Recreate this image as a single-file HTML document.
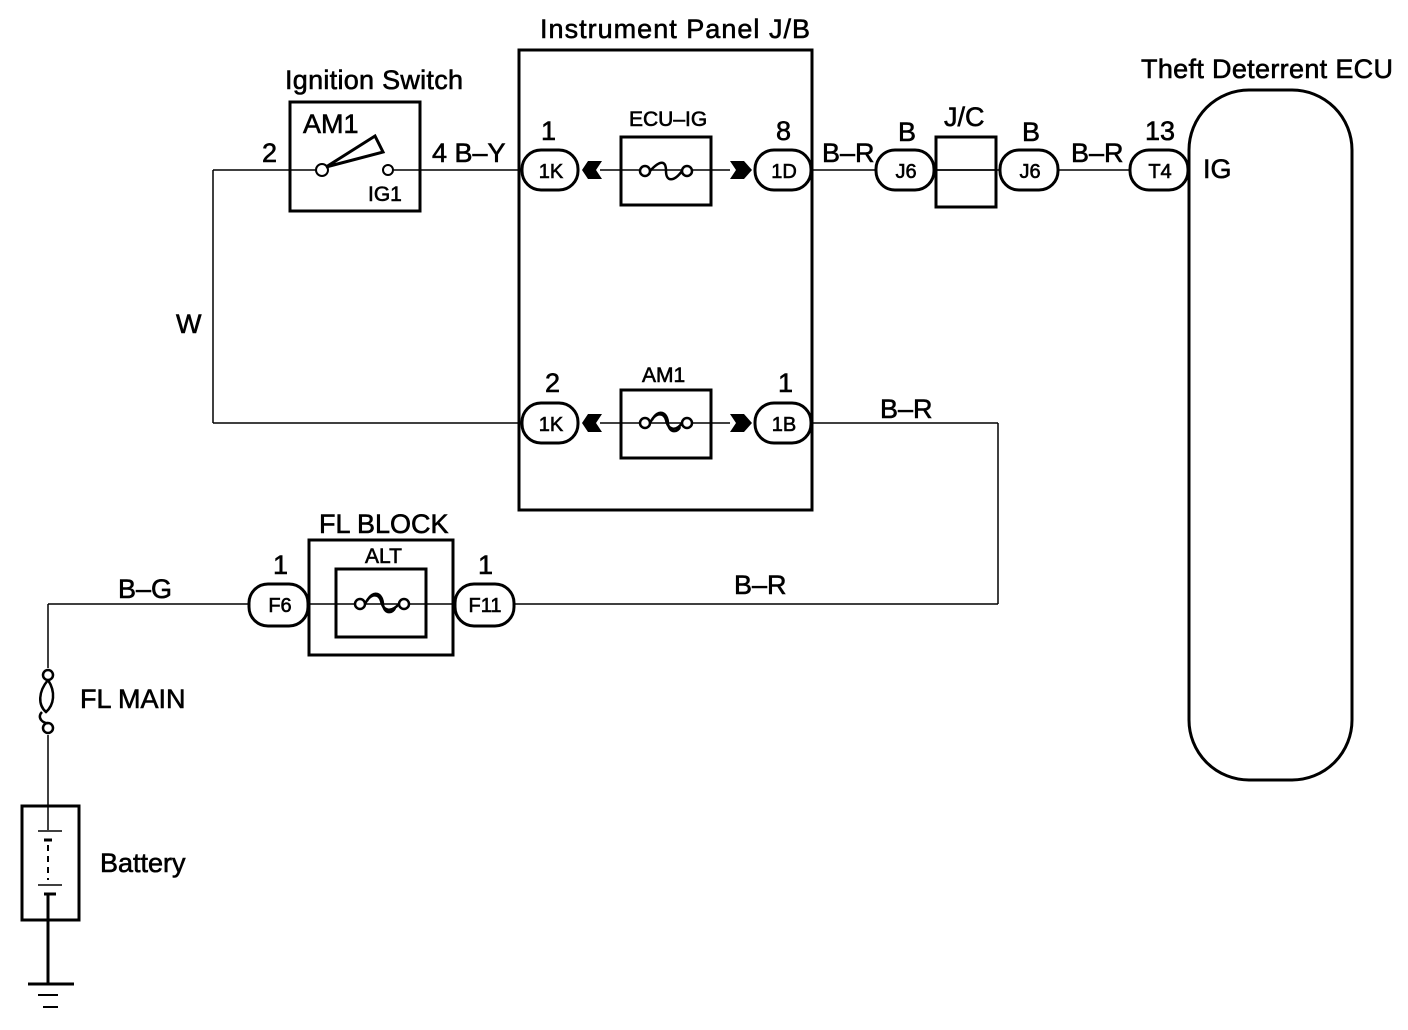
<!DOCTYPE html>
<html><head><meta charset="utf-8"><style>
html,body{margin:0;padding:0;background:#fff}
svg{display:block}
text{font-family:"Liberation Sans",sans-serif;fill:#000;stroke:#000;stroke-width:0.6}
</style></head><body>
<svg width="1408" height="1030" viewBox="0 0 1408 1030" xmlns="http://www.w3.org/2000/svg">
<g fill="none" stroke="#000" stroke-width="1.5">
<line x1="213" y1="170" x2="290" y2="170"/>
<line x1="213" y1="170" x2="213" y2="423"/>
<line x1="213" y1="423" x2="523" y2="423"/>
<line x1="420" y1="170" x2="523" y2="170"/>
<line x1="600" y1="170" x2="730" y2="170"/>
<line x1="600" y1="423" x2="730" y2="423"/>
<line x1="812" y1="170" x2="876" y2="170"/>
<line x1="934" y1="170" x2="1000" y2="170"/>
<line x1="1058" y1="170" x2="1130" y2="170"/>
<line x1="812" y1="423" x2="998" y2="423"/>
<line x1="998" y1="423" x2="998" y2="604"/>
<line x1="515" y1="604" x2="998" y2="604"/>
<line x1="308" y1="604" x2="455" y2="604"/>
<line x1="48" y1="604" x2="248" y2="604"/>
<line x1="48" y1="604" x2="48" y2="668"/>
<line x1="48" y1="735" x2="48" y2="806"/>
<line x1="290" y1="170" x2="316" y2="170"/>
</g>
<g fill="none" stroke="#000" stroke-width="3">
<rect x="290" y="102" width="130" height="109"/>
<rect x="519" y="50" width="293" height="460"/>
<rect x="621" y="137" width="90" height="68"/>
<rect x="621" y="390" width="90" height="68"/>
<rect x="936" y="137" width="60" height="70"/>
<rect x="1189" y="90" width="163" height="690" rx="60"/>
<rect x="309" y="540" width="144" height="115"/>
<rect x="336" y="569" width="90" height="68"/>
<rect x="22" y="806" width="57" height="114"/>
<rect x="522" y="150" width="56" height="40" rx="19"/>
<rect x="755" y="150" width="56" height="40" rx="19"/>
<rect x="522" y="403" width="56" height="40" rx="19"/>
<rect x="755" y="403" width="56" height="40" rx="19"/>
<rect x="876" y="150" width="58" height="40" rx="19"/>
<rect x="1000" y="150" width="58" height="40" rx="19"/>
<rect x="1130" y="150" width="58" height="40" rx="19"/>
<rect x="249" y="584" width="59" height="42" rx="19"/>
<rect x="455" y="584" width="59" height="42" rx="19"/>
</g>
<line x1="936" y1="170" x2="996" y2="170" stroke="#000" stroke-width="1.5"/>
<circle cx="322" cy="170" r="6" fill="#fff" stroke="#000" stroke-width="2"/>
<path d="M326,167 L375,136 L383,152 Z" fill="none" stroke="#000" stroke-width="3"/>
<circle cx="388" cy="170" r="5" fill="#fff" stroke="#000" stroke-width="2"/>
<line x1="394" y1="170" x2="420" y2="170" stroke="#000" stroke-width="1.5"/>
<g fill="#000">
<path d="M582,170 L588,161 L602,161 L596,170 L602,179 L588,179 Z"/>
<path d="M582,423 L588,414 L602,414 L596,423 L602,432 L588,432 Z"/>
<path d="M730,161 L744,161 L752,170 L744,179 L730,179 L736,170 Z"/>
<path d="M730,414 L744,414 L752,423 L744,432 L730,432 L736,423 Z"/>
</g>
<g fill="none" stroke="#000" stroke-width="2.5">
<circle cx="645" cy="171" r="5" fill="#fff"/><circle cx="687" cy="171" r="5" fill="#fff"/>
<path d="M650,171 C660,160 666,160 666,171 C666,182 674,182 682,171"/>
<circle cx="645" cy="423" r="5" fill="#fff"/><circle cx="687" cy="423" r="5" fill="#fff"/>
<path d="M650,423 C656,411 664,413 666,420 C668,430 676,432 682,423"/>
<path d="M652,420 C658,408 668,412 668,424 C670,434 678,432 680,427"/>
<circle cx="360" cy="604" r="5" fill="#fff"/><circle cx="404" cy="604" r="5" fill="#fff"/>
<path d="M365,604 C371,592 379,594 381,601 C383,611 391,613 399,604"/>
<path d="M367,601 C373,589 383,593 383,605 C385,615 393,613 395,608"/>
<circle cx="48" cy="675" r="5" fill="#fff"/><circle cx="48" cy="728" r="5" fill="#fff"/>
<path d="M48,680 C38,692 38,705 46,712 C54,705 56,692 48,680"/>
<path d="M42,712 C36,718 44,724 48,723"/>
</g>
<g stroke="#000">
<line x1="48" y1="806" x2="48" y2="830" stroke-width="1.5"/>
<line x1="38" y1="831" x2="62" y2="831" stroke-width="1.5"/>
<line x1="44" y1="840" x2="52" y2="840" stroke-width="3"/>
<line x1="48" y1="845" x2="48" y2="880" stroke-width="2" stroke-dasharray="6,5"/>
<line x1="38" y1="885" x2="62" y2="885" stroke-width="1.5"/>
<line x1="44" y1="894" x2="56" y2="894" stroke-width="3"/>
<line x1="48" y1="894" x2="48" y2="984" stroke-width="3"/>
<line x1="28" y1="984" x2="74" y2="984" stroke-width="3"/>
<line x1="38" y1="995" x2="58" y2="995" stroke-width="2"/>
<line x1="43" y1="1007" x2="58" y2="1007" stroke-width="2"/>
</g>
<g font-size="27">
<text x="540" y="38" textLength="270">Instrument Panel J/B</text>
<text x="285" y="89" textLength="178">Ignition Switch</text>
<text x="1141" y="78" textLength="252">Theft Deterrent ECU</text>
<text x="303" y="133">AM1</text>
<text x="262" y="162">2</text>
<text x="432" y="162">4 B–Y</text>
<text x="541" y="140">1</text>
<text x="776" y="140">8</text>
<text x="822" y="162">B–R</text>
<text x="898" y="141">B</text>
<text x="944" y="126">J/C</text>
<text x="1022" y="141">B</text>
<text x="1071" y="162">B–R</text>
<text x="1145" y="140">13</text>
<text x="1203" y="178">IG</text>
<text x="176" y="333">W</text>
<text x="545" y="392">2</text>
<text x="778" y="392">1</text>
<text x="880" y="418">B–R</text>
<text x="319" y="533">FL BLOCK</text>
<text x="273" y="574">1</text>
<text x="478" y="574">1</text>
<text x="118" y="598">B–G</text>
<text x="734" y="594">B–R</text>
<text x="80" y="708">FL MAIN</text>
<text x="100" y="872">Battery</text>
</g>
<g font-size="21">
<text x="629" y="126">ECU–IG</text>
<text x="642" y="382">AM1</text>
<text x="365" y="563">ALT</text>
<text x="368" y="201">IG1</text>
</g>
<g font-size="20" text-anchor="middle">
<text x="551" y="178">1K</text>
<text x="784" y="178">1D</text>
<text x="551" y="431">1K</text>
<text x="784" y="431">1B</text>
<text x="906" y="178">J6</text>
<text x="1030" y="178">J6</text>
<text x="1160" y="178">T4</text>
<text x="280" y="612">F6</text>
<text x="485" y="612">F11</text>
</g>
</svg>
</body></html>
